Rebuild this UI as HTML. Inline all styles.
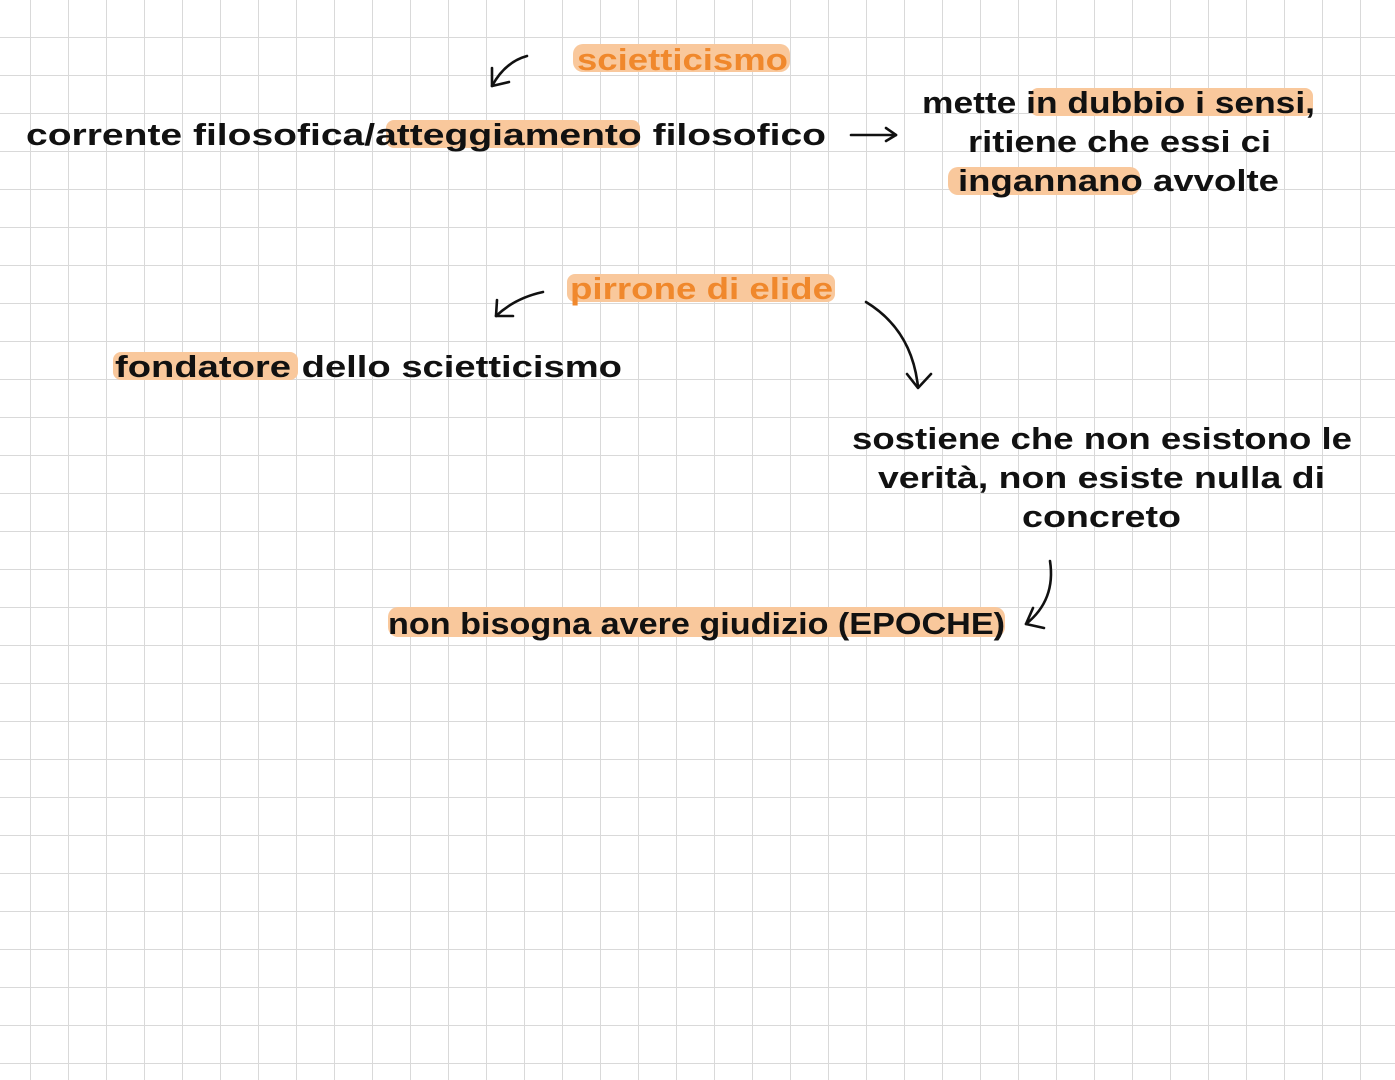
<!DOCTYPE html>
<html><head><meta charset="utf-8">
<style>
html,body{margin:0;padding:0;}
body{width:1395px;height:1080px;overflow:hidden;background:#fff;}
svg{display:block;}
text{font-family:"Liberation Sans",sans-serif;font-weight:bold;font-size:31px;}
</style></head><body>
<svg width="1395" height="1080" viewBox="0 0 1395 1080" xmlns="http://www.w3.org/2000/svg">
<defs>
<pattern id="g" x="30" y="37" width="38" height="38" patternUnits="userSpaceOnUse">
<path d="M0 0V38M0 0H38" stroke="#d9d9d9" stroke-width="2" fill="none"/>
</pattern>
</defs>
<rect width="1395" height="1080" fill="url(#g)"/>
<g fill="#f9c89c">
<rect x="573" y="44" width="217" height="28" rx="10"/>
<rect x="386" y="120" width="254" height="28" rx="8"/>
<rect x="1030" y="88" width="283" height="28" rx="8"/>
<rect x="948" y="167" width="192" height="28" rx="10"/>
<rect x="567" y="274" width="268" height="28" rx="8"/>
<rect x="113" y="352" width="185" height="28" rx="8"/>
<rect x="388" y="607" width="617" height="30" rx="10"/>
</g>
<g fill="#111">
<text x="26" y="145" textLength="800" lengthAdjust="spacingAndGlyphs">corrente filosofica/atteggiamento filosofico</text>
<text x="922" y="113" textLength="393" lengthAdjust="spacingAndGlyphs">mette in dubbio i sensi,</text>
<text x="968" y="152" textLength="303" lengthAdjust="spacingAndGlyphs">ritiene che essi ci</text>
<text x="958" y="191" textLength="321" lengthAdjust="spacingAndGlyphs">ingannano avvolte</text>
<text x="115" y="377" textLength="507" lengthAdjust="spacingAndGlyphs">fondatore dello scietticismo</text>
<text x="852" y="449" textLength="500" lengthAdjust="spacingAndGlyphs">sostiene che non esistono le</text>
<text x="878" y="488" textLength="447" lengthAdjust="spacingAndGlyphs">verità, non esiste nulla di</text>
<text x="1022" y="527" textLength="159" lengthAdjust="spacingAndGlyphs">concreto</text>
<text x="388" y="634" textLength="617" lengthAdjust="spacingAndGlyphs">non bisogna avere giudizio (EPOCHE)</text>
</g>
<g fill="#f0882c">
<text x="577" y="70" textLength="211" lengthAdjust="spacingAndGlyphs">scietticismo</text>
<text x="570" y="299" textLength="263" lengthAdjust="spacingAndGlyphs">pirrone di elide</text>
</g>
<g stroke="#111" stroke-width="2.6" fill="none" stroke-linecap="round" stroke-linejoin="round">
<path d="M527 56 Q505 62 492 86"/><path d="M492 68 L492 86 L509 82"/>
<path d="M851 135 H896"/><path d="M886 128 L896 135 L886 141"/>
<path d="M543 292 Q515 298 496 316"/><path d="M497 300 L496 316 L513 316"/>
<path d="M866 302 Q912 330 918 387"/><path d="M907 374 L918 388 L931 374"/>
<path d="M1050 561 Q1056 600 1026 624"/><path d="M1033 608 L1026 624 L1044 628"/>
</g>
</svg>
</body></html>
